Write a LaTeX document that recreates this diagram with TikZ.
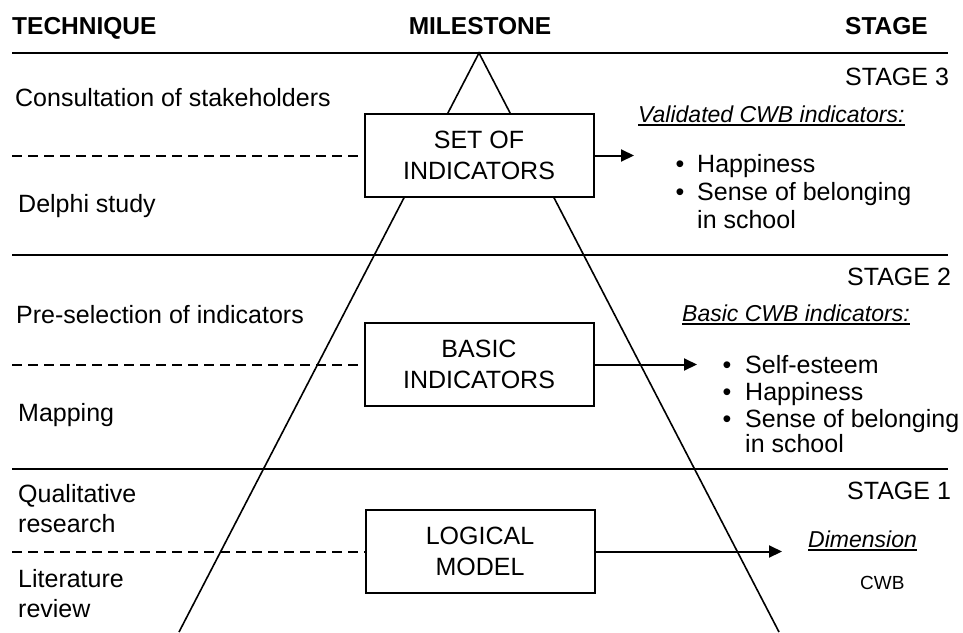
\documentclass[tikz,border=0pt]{standalone}
\usepackage{fontspec}
\setmainfont{Liberation Sans}
\usetikzlibrary{arrows.meta}

\begin{document}
\begin{tikzpicture}[x=1pt,y=-1pt,
  txt/.style={inner sep=0pt, anchor=base west, font=\fontsize{25}{30}\selectfont},
  hdr/.style={inner sep=0pt, font=\fontsize{24.5}{30}\selectfont\bfseries},
  lbl/.style={inner sep=0pt, anchor=base west, font=\fontsize{23}{28}\selectfont\itshape},
  dot/.style={inner sep=0pt, anchor=base, font=\fontsize{25}{30}\selectfont},
  milestone/.style={draw, line width=2pt, fill=white, minimum width=229pt,
    minimum height=83pt, align=center, inner sep=0pt,
    font=\fontsize{25}{31}\selectfont},
  sepline/.style={line width=2.2pt},
  dashline/.style={line width=2pt, dash pattern=on 10pt off 6pt},
  flow/.style={line width=2pt, -{Triangle[length=13pt,width=12pt]}},
  pyramid/.style={line width=1.6pt},
  uline/.style={line width=1.4pt}]
\useasboundingbox (0,0) rectangle (963,632);

% column headings
\node[hdr, anchor=base west] (hTech) at (12,34) {TECHNIQUE};
\node[hdr, anchor=base] (hMile) at (480,34) {MILESTONE};
\node[hdr, anchor=base west] (hStage) at (845,34) {STAGE};

% stage separators
\draw[sepline] (12,53) -- (948,53);
\draw[sepline] (12,255) -- (948,255);
\draw[sepline] (12,469) -- (948,469);

% pyramid outline
\coordinate (apex) at (479,53);
\coordinate (baseL) at (179,632);
\coordinate (baseR) at (779,632);
\draw[pyramid] (baseL) -- (apex) -- (baseR);

% technique dividers
\coordinate (d3) at (12,155.5);
\coordinate (d2) at (12,364.5);
\coordinate (d1) at (12,551.5);

% milestones
\node[milestone] (m3) at (479,155.5) {SET OF\\INDICATORS};
\node[milestone] (m2) at (479,364.5) {BASIC\\INDICATORS};
\node[milestone] (m1) at (480,551.5) {LOGICAL\\MODEL};

\draw[dashline] (d3) -- (m3.west);
\draw[dashline] (d2) -- (m2.west);
\draw[dashline] (d1) -- (m1.west);

% outputs
\coordinate (o3) at (634,155.5);
\coordinate (o2) at (697,364.5);
\coordinate (o1) at (782,551.5);
\draw[flow] (m3.east) -- (o3);
\draw[flow] (m2.east) -- (o2);
\draw[flow] (m1.east) -- (o1);

% stage labels
\node[txt] (s3) at (845,85) {STAGE 3};
\node[txt] (s2) at (847,285) {STAGE 2};
\node[txt] (s1) at (847,499) {STAGE 1};

% techniques
\node[txt] (t3a) at (15,106) {Consultation of stakeholders};
\node[txt] (t3b) at (18,212) {Delphi study};
\node[txt] (t2a) at (16,323) {Pre-selection of indicators};
\node[txt] (t2b) at (18,421) {Mapping};
\node[txt] (t1a) at (18,502) {Qualitative};
\node[txt] (t1b) at (18,532) {research};
\node[txt] (t1c) at (18,587) {Literature};
\node[txt] (t1d) at (18,617) {review};

% stage 3 results
\node[lbl] (r3) at (638,122) {Validated CWB indicators:};
\draw[uline] ([yshift=-3pt]r3.base west) -- ([yshift=-3pt]r3.base east);
\node[dot] (b3a) at (680,172) {•};
\node[txt] (i3a) at (697,172) {Happiness};
\node[dot] (b3b) at (680,200) {•};
\node[txt] (i3b) at (697,200) {Sense of belonging};
\node[txt] (i3c) at (697,228) {in school};

% stage 2 results
\node[lbl] (r2) at (682,321) {Basic CWB indicators:};
\draw[uline] ([yshift=-3pt]r2.base west) -- ([yshift=-3pt]r2.base east);
\node[dot] (b2a) at (727,373) {•};
\node[txt] (i2a) at (745,373) {Self-esteem};
\node[dot] (b2b) at (727,400) {•};
\node[txt] (i2b) at (745,400) {Happiness};
\node[dot] (b2c) at (727,427) {•};
\node[txt] (i2c) at (745,427) {Sense of belonging};
\node[txt] (i2d) at (745,452) {in school};

% stage 1 results
\node[lbl] (r1) at (808,547) {Dimension};
\draw[uline] ([yshift=-3pt]r1.base west) -- ([yshift=-3pt]r1.base east);
\node[txt, font=\fontsize{19}{23}\selectfont] (i1a) at (860,589) {CWB};
\end{tikzpicture}
\end{document}
